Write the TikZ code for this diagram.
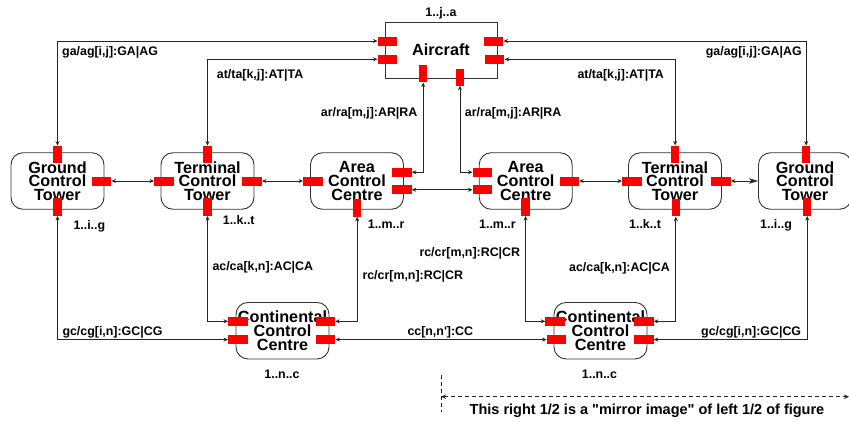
\documentclass[tikz,border=0pt]{standalone}
\usepackage{fontspec}
\setmainfont{Liberation Sans}[Ligatures=TeXOff]
\usetikzlibrary{arrows.meta}
\newcommand\boxfnt{\fontsize{16.2}{13.6}\selectfont\bfseries}
\newcommand\lblfnt{\fontsize{12.4}{14}\selectfont\bfseries}
\newcommand\notefnt{\fontsize{14.5}{16}\selectfont\bfseries}
\begin{document}
\begin{tikzpicture}[x=1pt,y=-1pt,
  box/.style={draw=black!80, line width=0.9pt, rounded corners=12pt, fill=white,
    minimum width=93pt, minimum height=56.5pt, align=center, font=\boxfnt, inner sep=0pt},
  hport/.style={fill=red, draw=none, minimum width=19.5pt, minimum height=9pt, inner sep=0pt},
  vport/.style={fill=red, draw=none, minimum width=8.5pt, minimum height=17.5pt, inner sep=0pt},
  conn/.style={draw=black!85, line width=0.8pt,
    {Stealth[length=4.5pt,width=4pt]}-{Stealth[length=4.5pt,width=4pt]}},
  lbl/.style={font=\lblfnt, inner sep=0pt, anchor=base west},
  lblc/.style={font=\lblfnt, inner sep=0pt, anchor=base},
]
\useasboundingbox (0,0) rectangle (849,421);

% ---------------- boxes ----------------
\node[box, sharp corners, minimum width=112pt, minimum height=56pt] (ac) at (441,50) {Aircraft};
\node[box] (gL) at (57.5,181) {Ground\\Control\\Tower};
\node[box] (tL) at (207.5,181) {Terminal\\Control\\Tower};
\node[box] (aL) at (357,181) {Area\\Control\\Centre};
\node[box] (aR) at (525.7,181) {Area\\Control\\Centre};
\node[box] (tR) at (675,181) {Terminal\\Control\\Tower};
\node[box] (gR) at (805,181) {Ground\\Control\\Tower};
\node[box] (cL) at (282.5,330.7) {Continental\\Control\\Centre};
\node[box] (cR) at (600.5,330.7) {Continental\\Control\\Centre};

% ---------------- ports ----------------
% aircraft
\node[hport] (acL1) at (387.5,41) {};
\node[hport] (acL2) at (387.5,59.3) {};
\node[hport] (acR1) at (493.5,41) {};
\node[hport] (acR2) at (494.7,59.3) {};
\node[vport, minimum height=17pt] (acB1) at (423.2,73.8) {};
\node[vport, minimum height=17pt] (acB2) at (459.9,77) {};
% left ground
\node[vport] (gLt) at (57.5,154.5) {};
\node[hport] (gLr) at (101.5,181) {};
\node[vport] (gLb) at (57.5,207) {};
% left terminal
\node[vport] (tLt) at (207.5,154.5) {};
\node[hport] (tLl) at (164,181) {};
\node[hport] (tLr) at (252,181) {};
\node[vport] (tLb) at (207.5,207) {};
% left area
\node[hport] (aLl) at (313,181) {};
\node[hport] (aLr1) at (401.8,172.2) {};
\node[hport] (aLr2) at (401.8,189.8) {};
\node[vport] (aLb) at (357.2,207.8) {};
% right area
\node[hport] (aRl1) at (482.5,172.2) {};
\node[hport] (aRl2) at (482.5,189.8) {};
\node[hport] (aRr) at (569.3,181) {};
\node[vport] (aRb) at (525.6,207) {};
% right terminal
\node[hport] (tRl) at (632,181) {};
\node[hport] (tRr) at (721,181) {};
\node[vport] (tRt) at (675.2,154.3) {};
\node[vport] (tRb) at (675.8,207.7) {};
% right ground
\node[vport] (gRt) at (806.2,154.5) {};
\node[vport] (gRb) at (807.2,207) {};
% left continental
\node[hport] (cLl1) at (238,321.3) {};
\node[hport] (cLl2) at (238,339.6) {};
\node[hport] (cLr1) at (325.3,321.3) {};
\node[hport] (cLr2) at (325.5,339.6) {};
% right continental
\node[hport] (cRl1) at (555.2,321.3) {};
\node[hport] (cRl2) at (556.5,339.6) {};
\node[hport] (cRr1) at (643.8,321.3) {};
\node[hport] (cRr2) at (643.8,339.6) {};

% ---------------- connectors ----------------
\draw[conn] (acL1.west) -| (gLt.north);
\draw[conn] (acL2.west) -| (tLt.north);
\draw[conn] (acB1.south) |- (aLr1.east);
\draw[conn] (acB2.south) |- (aRl1.west);
\draw[conn] (acR2.east) -| (tRt.north);
\draw[conn] (acR1.east) -| (gRt.north);
\draw[conn] (gLr.east) -- (tLl.west);
\draw[conn] (tLr.east) -- (aLl.west);
\draw[conn] (aLr2.east) -- (aRl2.west);
\draw[conn] (aRr.east) -- (tRl.west);
\draw[draw=black!85, line width=0.8pt,
  {Stealth[length=4.5pt,width=4pt]}-{Stealth[length=9pt,width=5.5pt,inset=2.5pt]}]
  (tRr.east) -- (gR.west);
\draw[conn] (gLb.south) |- (cLl2.west);
\draw[conn] (tLb.south) |- (cLl1.west);
\draw[conn] (aLb.south) |- (cLr1.east);
\draw[conn] (cLr2.east) -- (cRl2.west);
\draw[conn] (aRb.south) |- (cRl1.west);
\draw[conn] (tRb.south) |- (cRr1.east);
\draw[conn] (gRb.south) |- (cRr2.east);

% ---------------- labels ----------------
\node[lblc] (nac) at (441,16.7) {1..j..a};
\node[lbl] (l1) at (62,55.3) {ga/ag[i,j]:GA|AG};
\node[lbl] (l2) at (216.7,78.4) {at/ta[k,j]:AT|TA};
\node[lbl] (l3) at (320.7,116.4) {ar/ra[m,j]:AR|RA};
\node[lbl] (l4) at (705.7,55.3) {ga/ag[i,j]:GA|AG};
\node[lbl] (l5) at (577.3,78.4) {at/ta[k,j]:AT|TA};
\node[lbl] (l6) at (464.7,116.4) {ar/ra[m,j]:AR|RA};
\node[lbl] (m1) at (73.3,229) {1..i..g};
\node[lbl] (m2) at (222.7,224) {1..k..t};
\node[lbl] (m3) at (367.7,228.5) {1..m..r};
\node[lbl] (m4) at (479,228.5) {1..m..r};
\node[lbl] (m5) at (629,228.5) {1..k..t};
\node[lbl] (m6) at (760,228.5) {1..i..g};
\node[lbl] (l7) at (212.3,270) {ac/ca[k,n]:AC|CA};
\node[lbl] (l8) at (362.3,279.5) {rc/cr[m,n]:RC|CR};
\node[lbl] (l9) at (419.3,256) {rc/cr[m,n]:RC|CR};
\node[lbl] (l10) at (569,271) {ac/ca[k,n]:AC|CA};
\node[lbl] (l11) at (62.3,335.5) {gc/cg[i,n]:GC|CG};
\node[lbl] (l12) at (701,335.5) {gc/cg[i,n]:GC|CG};
\node[lbl] (l13) at (407.3,335.5) {cc[n,n']:CC};
\node[lblc] (n1) at (282,378) {1..n..c};
\node[lblc] (n2) at (599.5,378) {1..n..c};

% ---------------- mirror note ----------------
\coordinate (vt) at (441,375);
\coordinate (vb) at (441,412);
\coordinate (dl) at (441,396.7);
\coordinate (dr) at (849,396.7);
\draw[draw=black!85, line width=0.8pt, dash pattern=on 4pt off 3pt] (vt) -- (vb);
\draw[draw=black!85, line width=0.8pt, dash pattern=on 4pt off 3pt,
  {Stealth[length=5pt,width=4.5pt]}-{Stealth[length=5pt,width=4.5pt]}] (dl) -- (dr);
\node[font=\notefnt, inner sep=0pt, anchor=base] (note) at (647,414)
  {This right 1/2 is a "mirror image" of left 1/2 of figure};
\end{tikzpicture}
\end{document}
